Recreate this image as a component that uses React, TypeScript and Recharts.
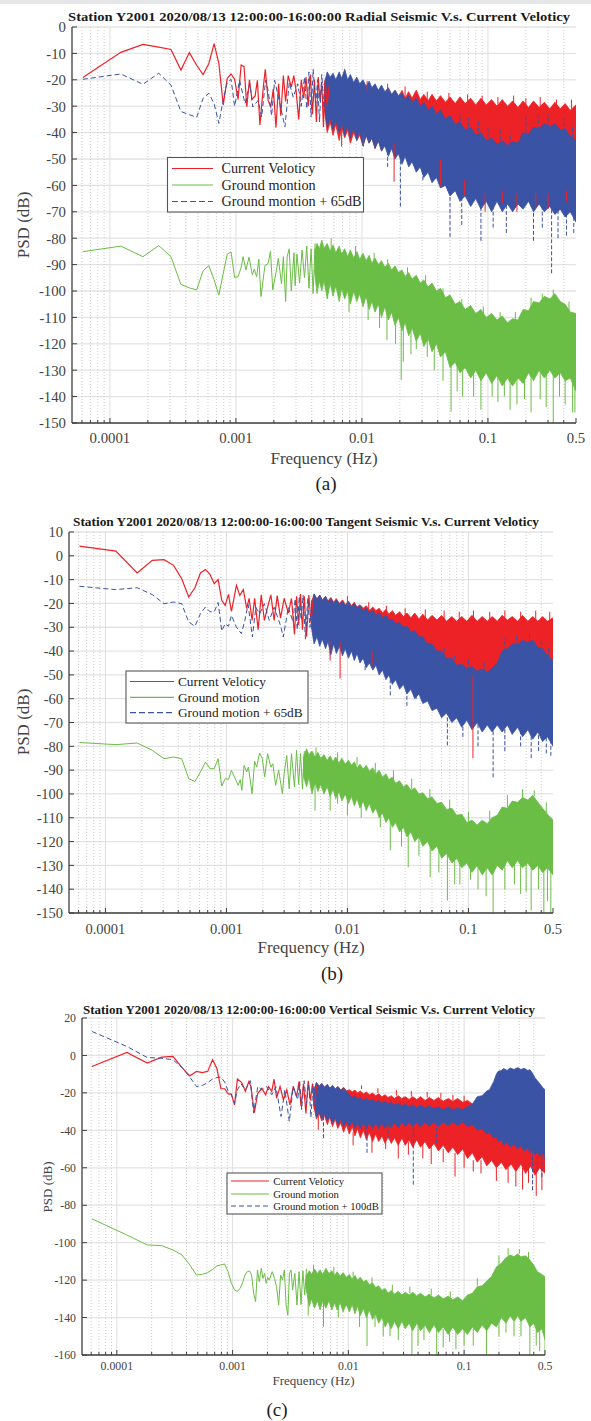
import React from 'react';
import { ComposedChart, Line, Area, XAxis, YAxis, CartesianGrid, ReferenceLine } from 'recharts';

type Pt = [number, number];
type Band = [number, number, number];

const RED = '#ec2227';
const GREEN = '#6abd45';
const BLUE = '#3a53a4';
const AXIS = '#3f3f3f';
const TICK_TEXT = '#444';
const SERIF = '"Liberation Serif", "Times New Roman", serif';

// frequency axis (log) ticks
const freqLabels = [0.0001, 0.001, 0.01, 0.1, 0.5];
const freqMajorGrid = [0.0001, 0.001, 0.01, 0.1];
const freqMinor = [
  0.00006, 0.00007, 0.00008, 0.00009, 0.0002, 0.0003, 0.0004, 0.0005, 0.0006, 0.0007, 0.0008, 0.0009,
  0.002, 0.003, 0.004, 0.005, 0.006, 0.007, 0.008, 0.009, 0.02, 0.03, 0.04, 0.05, 0.06, 0.07, 0.08, 0.09,
  0.2, 0.3, 0.4,
];
const freqAllTicks = [...freqMinor, ...freqLabels].sort((a, b) => a - b);

const psdTicksA = [-150, -140, -130, -120, -110, -100, -90, -80, -70, -60, -50, -40, -30, -20, -10, 0];
const psdTicksB = [-150, -140, -130, -120, -110, -100, -90, -80, -70, -60, -50, -40, -30, -20, -10, 0, 10];
const psdTicksC = [-160, -140, -120, -100, -80, -60, -40, -20, 0, 20];

// ---------- (a) Radial ----------
const aCurrentLine: Pt[] = [
  [6.1e-5, -19.1], [1.22e-4, -9.6], [1.83e-4, -6.6], [2.44e-4, -7.6], [3.05e-4, -8.5], [3.66e-4, -16.3],
  [4.27e-4, -9.7], [4.88e-4, -14.5], [5.49e-4, -18], [6.1e-4, -13.8], [6.71e-4, -6.3], [7.32e-4, -13.8],
  [7.93e-4, -29.5], [8.54e-4, -19.4], [9.15e-4, -17.8], [9.76e-4, -19.8], [1.04e-3, -27.4], [1.1e-3, -14.4],
  [1.16e-3, -15], [1.22e-3, -30.2], [1.28e-3, -20], [1.34e-3, -27.4], [1.42e-3, -26.1], [1.48e-3, -20.2],
  [1.55e-3, -37.1], [1.65e-3, -22.7], [1.71e-3, -16], [1.8e-3, -27.8], [1.89e-3, -30.3], [1.98e-3, -23.4],
  [2.08e-3, -38.1], [2.18e-3, -21.5], [2.27e-3, -33.6], [2.38e-3, -18.4], [2.48e-3, -28.2], [2.6e-3, -18.4],
  [2.75e-3, -22.8], [2.88e-3, -18.4], [3.0e-3, -24], [3.15e-3, -35], [3.3e-3, -20], [3.45e-3, -27], [3.6e-3, -19],
  [3.75e-3, -30], [3.9e-3, -18], [4.05e-3, -33], [4.2e-3, -20], [4.35e-3, -36], [4.5e-3, -19], [4.65e-3, -28],
  [4.8e-3, -21], [4.95e-3, -38], [5.1e-3, -20], [5.3e-3, -30], [5.5e-3, -22],
];
const aCurrentBand: Band[] = [
  [5.0e-3, -30, -24], [5.3e-3, -40, -19], [5.6e-3, -36, -21], [5.9e-3, -41, -19.5], [6.2e-3, -37, -22],
  [6.6e-3, -43, -20], [6.9e-3, -38, -22.5], [7.3e-3, -42, -20], [7.7e-3, -39, -23], [8.1e-3, -44, -21],
  [8.6e-3, -40, -23.5], [9.1e-3, -43, -21.5], [9.6e-3, -41, -24], [1.02e-2, -45, -22], [1.08e-2, -41, -24.5],
  [1.14e-2, -44, -22], [1.2e-2, -42, -25], [1.27e-2, -46, -22.5], [1.35e-2, -43, -25], [1.43e-2, -47, -23],
  [1.52e-2, -44, -25.5], [1.62e-2, -48, -23.5], [1.72e-2, -45, -26], [1.83e-2, -49, -24], [1.95e-2, -46, -26.5],
  [2.08e-2, -50, -24], [2.2e-2, -47, -27], [2.35e-2, -50, -24.5], [2.5e-2, -48, -27], [2.7e-2, -51, -23.9],
  [2.9e-2, -48, -27.5], [3.1e-2, -52, -25.5], [3.35e-2, -49, -28], [3.6e-2, -52, -25.5], [3.9e-2, -50, -28],
  [4.2e-2, -53, -26], [4.6e-2, -50, -28.5], [5.0e-2, -53, -26.5], [5.5e-2, -51, -29], [6.0e-2, -54, -26.5],
  [6.6e-2, -51, -29], [7.3e-2, -54, -27], [8.0e-2, -52, -29.5], [8.8e-2, -55, -27], [9.7e-2, -52, -29.5],
  [0.107, -55, -27.5], [0.118, -53, -30], [0.13, -56, -27.5], [0.143, -53, -30], [0.157, -56, -28],
  [0.173, -54, -30.5], [0.19, -57, -28], [0.21, -54, -30.5], [0.23, -57, -28], [0.255, -55, -30.5],
  [0.28, -57, -28.5], [0.31, -55, -31], [0.34, -58, -28.5], [0.375, -56, -31], [0.41, -58, -29],
  [0.45, -56, -31.5], [0.5, -58, -29.5],
];
const aCurrentSpikes: Band[] = [
  [6.9e-3, -45.3, -38], [1.03e-2, -45.3, -40], [1.8e-2, -58.6, -44], [4.2e-2, -60, -50], [6.5e-2, -64, -58],
  [9.5e-2, -70, -63], [0.13, -67, -62], [0.17, -70, -63], [0.24, -68, -63], [0.3, -69, -63], [0.42, -66, -62],
  [1.1e-2, -24, -20.5], [1.6e-2, -25, -21.5], [2.2e-2, -27, -22.5], [3.3e-2, -28, -24.5], [4.9e-2, -28.5, -25],
  [6.9e-2, -29, -25.5], [0.09, -29.5, -26], [0.12, -30, -26.5], [0.16, -30, -26], [0.2, -30.5, -27],
  [0.26, -30.5, -26.5], [0.35, -31, -27.5], [0.46, -31, -27.5],
];
const aGroundLine: Pt[] = [
  [6.1e-5, -85.1], [1.22e-4, -83], [1.83e-4, -87], [2.44e-4, -82.8], [3.05e-4, -87], [3.66e-4, -97.5],
  [4.27e-4, -98.8], [4.88e-4, -99.6], [5.49e-4, -92.3], [6.1e-4, -90.4], [6.71e-4, -95.8], [7.32e-4, -101.6],
  [7.93e-4, -93.3], [8.54e-4, -86], [9.15e-4, -85.2], [9.76e-4, -94.8], [1.04e-3, -94.6], [1.1e-3, -91],
  [1.14e-3, -87], [1.2e-3, -92], [1.27e-3, -87.2], [1.35e-3, -93.9], [1.4e-3, -91.7], [1.46e-3, -94.6],
  [1.52e-3, -88], [1.58e-3, -102.1], [1.7e-3, -90.4], [1.8e-3, -89.6], [1.88e-3, -85], [1.96e-3, -99.6],
  [2.1e-3, -92], [2.17e-3, -87.6], [2.3e-3, -97.3], [2.38e-3, -87], [2.48e-3, -104], [2.55e-3, -87],
  [2.65e-3, -84], [2.75e-3, -100], [2.89e-3, -85.5], [2.95e-3, -98], [3.05e-3, -86], [3.2e-3, -97],
  [3.35e-3, -84.5], [3.5e-3, -95], [3.65e-3, -83], [3.8e-3, -99], [3.95e-3, -84], [4.1e-3, -101], [4.25e-3, -82],
];
const aGroundBand: Band[] = [
  [4.2e-3, -92, -85], [4.4e-3, -101, -82], [4.6e-3, -96, -84], [4.8e-3, -100, -80.7], [5.0e-3, -96, -84],
  [5.3e-3, -103, -82], [5.6e-3, -97, -85], [5.9e-3, -102, -82.5], [6.2e-3, -98, -85.5], [6.6e-3, -104, -83],
  [6.9e-3, -99, -86], [7.3e-3, -103, -84], [7.7e-3, -100, -87], [8.1e-3, -105, -84.5], [8.6e-3, -100, -87.5],
  [9.1e-3, -104, -85], [9.6e-3, -101, -88], [1.02e-2, -106, -85.7], [1.08e-2, -102, -88.5], [1.14e-2, -107, -86.5],
  [1.2e-2, -104, -89.5], [1.27e-2, -108, -87.5], [1.35e-2, -105, -90], [1.43e-2, -110, -88.5], [1.52e-2, -106, -91],
  [1.62e-2, -111, -89.5], [1.72e-2, -108, -92], [1.83e-2, -113, -90.5], [1.95e-2, -110, -93], [2.08e-2, -115, -92],
  [2.2e-2, -112, -94.5], [2.35e-2, -117, -93], [2.5e-2, -114, -95.5], [2.7e-2, -119, -94], [2.9e-2, -116, -97],
  [3.1e-2, -121, -95.8], [3.35e-2, -118, -98.5], [3.6e-2, -123, -97], [3.9e-2, -120, -100], [4.2e-2, -125, -99],
  [4.6e-2, -123, -102.5], [5.0e-2, -129, -101.5], [5.5e-2, -127, -105], [6.0e-2, -131, -104], [6.6e-2, -129, -107],
  [7.3e-2, -133, -105.5], [8.0e-2, -130, -108.5], [8.8e-2, -134, -107], [9.7e-2, -131, -110], [0.107, -135, -108.5],
  [0.118, -132, -111], [0.13, -136, -109.5], [0.143, -133, -112], [0.157, -136, -110.5], [0.173, -133, -111],
  [0.19, -135, -107], [0.21, -131, -107.5], [0.23, -134, -104], [0.255, -130, -104.5], [0.28, -133, -102],
  [0.31, -130, -103], [0.34, -133, -101], [0.375, -131, -104], [0.41, -134, -105], [0.45, -133, -108],
  [0.5, -138, -108.5],
];
const aGroundSpikes: Band[] = [
  [1.58e-2, -118.6, -105], [2.05e-2, -133.7, -110], [2.13e-2, -126.8, -110], [2.7e-2, -122, -112],
  [3.3e-2, -125, -115], [5.1e-2, -145.7, -125], [6.3e-2, -140, -128], [8.8e-2, -145, -130], [0.108, -140, -130],
  [0.12, -142, -130], [0.135, -140, -130], [0.17, -143, -130], [0.22, -146, -128], [0.26, -141, -128],
  [0.33, -150, -128], [0.41, -143, -130], [0.47, -146, -132],
  [7.9e-3, -108, -98], [1.12e-2, -111, -100], [1.38e-2, -114, -104], [1.85e-2, -120, -108], [2.45e-2, -124, -112],
  [3.75e-2, -130, -118], [4.4e-2, -134, -122], [5.7e-2, -138, -128], [7.7e-2, -140, -130], [0.15, -145, -133],
  [0.195, -141, -132], [0.29, -144, -130], [0.37, -140, -131], [0.49, -146, -135],
  [5.7e-3, -86, -80], [8.9e-3, -88, -83], [1.25e-2, -90, -85.5], [1.6e-2, -92, -88], [2.3e-2, -96, -91],
  [3.2e-2, -99, -94], [4.4e-2, -104, -99], [6.2e-2, -107, -103], [0.092, -111, -106], [0.125, -113, -108],
  [0.165, -112, -108], [0.22, -107, -102.5], [0.27, -105, -101], [0.33, -103, -99.5], [0.44, -108, -104],
];
const aShiftedLine: Pt[] = [
  [6.1e-5, -19.8], [1.22e-4, -17.8], [1.83e-4, -21.7], [2.44e-4, -17.5], [3.05e-4, -22], [3.66e-4, -32],
  [4.27e-4, -33.2], [4.88e-4, -34.2], [5.49e-4, -27], [6.1e-4, -25.1], [6.71e-4, -29], [7.32e-4, -36.5],
  [7.93e-4, -27.5], [8.54e-4, -21], [9.15e-4, -19.8], [9.76e-4, -30], [1.07e-3, -20.2], [1.18e-3, -29],
  [1.29e-3, -21.5], [1.36e-3, -30.3], [1.5e-3, -27.8], [1.6e-3, -34.1], [1.72e-3, -20.2], [1.8e-3, -24],
  [1.92e-3, -33.6], [2.03e-3, -20.2], [2.2e-3, -27.8], [2.45e-3, -37.8], [2.65e-3, -21], [2.85e-3, -26.6],
  [3.1e-3, -21.5], [3.3e-3, -30], [3.5e-3, -19], [3.65e-3, -31], [3.8e-3, -17], [3.95e-3, -34], [4.1e-3, -16],
  [4.3e-3, -29], [4.45e-3, -20], [4.6e-3, -36], [4.8e-3, -18], [5.0e-3, -31], [5.2e-3, -19],
];
const aShiftedBand: Band[] = [
  [5.0e-3, -28, -22], [5.3e-3, -38, -17], [5.6e-3, -34, -19], [5.9e-3, -39, -17.5], [6.2e-3, -35, -20],
  [6.6e-3, -40, -17], [6.9e-3, -36, -19.5], [7.3e-3, -41, -16], [7.7e-3, -37, -20], [8.1e-3, -42, -18],
  [8.6e-3, -38, -21], [9.1e-3, -43, -19], [9.6e-3, -39, -21.5], [1.02e-2, -45, -20], [1.08e-2, -41, -22.5],
  [1.14e-2, -44, -20.5], [1.2e-2, -42, -23], [1.27e-2, -46, -21.5], [1.35e-2, -43, -24], [1.43e-2, -47, -22],
  [1.52e-2, -45, -24.5], [1.62e-2, -49, -23], [1.72e-2, -46, -25.5], [1.83e-2, -50, -24], [1.95e-2, -48, -26],
  [2.08e-2, -52, -25], [2.2e-2, -49, -27.5], [2.35e-2, -53, -26], [2.5e-2, -51, -28.5], [2.7e-2, -55, -27],
  [2.9e-2, -53, -30], [3.1e-2, -57, -28.5], [3.35e-2, -55, -31.5], [3.6e-2, -59, -30], [3.9e-2, -57, -33],
  [4.2e-2, -61, -31.5], [4.6e-2, -60, -35], [5.0e-2, -64, -33.5], [5.5e-2, -62, -37], [6.0e-2, -66, -36],
  [6.6e-2, -64, -39], [7.3e-2, -68, -38], [8.0e-2, -65, -41], [8.8e-2, -69, -40], [9.7e-2, -66, -43],
  [0.107, -70, -42], [0.118, -66, -44.5], [0.13, -70, -43], [0.143, -67, -45], [0.157, -70, -43.5],
  [0.173, -67, -44], [0.19, -69, -40], [0.21, -66, -40.5], [0.23, -70, -38], [0.255, -67, -38.5],
  [0.28, -70, -36.5], [0.31, -68, -38], [0.34, -71, -36.5], [0.375, -69, -39], [0.41, -72, -38.5],
  [0.45, -70, -41.5], [0.5, -74, -43],
];
const aShiftedSpikes: Band[] = [
  [1.6e-2, -53, -42], [2.02e-2, -68, -45], [3.05e-2, -58, -50], [5.0e-2, -79.5, -60], [6.2e-2, -75, -62],
  [8.8e-2, -81, -64], [0.11, -76, -64], [0.14, -78, -64], [0.23, -81, -64], [0.27, -76, -64],
  [0.32, -93.3, -64], [0.36, -80, -65], [0.42, -79, -66], [0.48, -78, -66],
  [6.0e-2, -38, -33], [7.0e-2, -40, -34.5], [8.4e-2, -42, -36], [0.1, -44, -38], [0.125, -45, -39],
  [0.15, -45, -40], [0.2, -40, -34], [0.25, -39, -33.5], [0.3, -38, -33], [0.4, -40, -34.5], [0.47, -42, -37],
];

// ---------- (b) Tangent ----------
const bCurrentLine: Pt[] = [
  [6.1e-5, 4.1], [1.22e-4, 2.0], [1.83e-4, -7.2], [2.44e-4, -1.9], [3.05e-4, -1.6], [3.66e-4, -4],
  [4.27e-4, -9.6], [4.88e-4, -17.3], [5.49e-4, -13.4], [6.1e-4, -7.2], [6.71e-4, -5.8], [7.32e-4, -7.8],
  [7.93e-4, -11.7], [8.54e-4, -10], [9.15e-4, -18.7], [9.76e-4, -20.8], [1.04e-3, -16.2], [1.1e-3, -23.3],
  [1.21e-3, -12.4], [1.29e-3, -16.6], [1.38e-3, -14.2], [1.47e-3, -22.1], [1.54e-3, -17.9], [1.63e-3, -27.1],
  [1.71e-3, -17.9], [1.83e-3, -31], [1.94e-3, -16.4], [2.06e-3, -27.1], [2.19e-3, -21.5], [2.33e-3, -16.4],
  [2.48e-3, -27.1], [2.63e-3, -16.7], [2.8e-3, -26.2], [3.0e-3, -17.9], [3.25e-3, -24], [3.45e-3, -17.9],
  [3.65e-3, -33], [3.8e-3, -17], [3.95e-3, -29], [4.1e-3, -16], [4.25e-3, -31], [4.4e-3, -17], [4.6e-3, -34],
  [4.8e-3, -16.5], [5.0e-3, -28], [5.2e-3, -18],
];
const bCurrentBand: Band[] = [
  [5.0e-3, -27, -21], [5.3e-3, -35, -16], [5.6e-3, -32, -18], [5.9e-3, -36, -16.5], [6.2e-3, -33, -18.5],
  [6.6e-3, -37, -17], [6.9e-3, -34, -19], [7.3e-3, -38, -17.5], [7.7e-3, -35, -19.5], [8.1e-3, -39, -18],
  [8.6e-3, -36, -20], [9.1e-3, -40, -18.5], [9.6e-3, -37, -20.5], [1.02e-2, -41, -19], [1.08e-2, -38, -21],
  [1.14e-2, -42, -19.5], [1.2e-2, -39, -21.5], [1.27e-2, -43, -20.5], [1.35e-2, -40, -22], [1.43e-2, -44, -21],
  [1.52e-2, -41, -22.9], [1.62e-2, -45, -21.5], [1.72e-2, -42, -23], [1.83e-2, -46, -22], [1.95e-2, -43, -24],
  [2.08e-2, -47, -22.5], [2.2e-2, -44, -24.5], [2.35e-2, -48, -23], [2.5e-2, -45, -25], [2.7e-2, -49, -23.5],
  [2.9e-2, -46, -25.5], [3.1e-2, -50, -24], [3.35e-2, -47, -26], [3.6e-2, -51, -24], [3.9e-2, -48, -26.5],
  [4.2e-2, -52, -24.5], [4.6e-2, -49, -27], [5.0e-2, -53, -25], [5.5e-2, -50, -27], [6.0e-2, -54, -25],
  [6.6e-2, -51, -27.5], [7.3e-2, -55, -25.5], [8.0e-2, -52, -27.5], [8.8e-2, -56, -25.5], [9.7e-2, -53, -27.5],
  [0.107, -57, -25], [0.118, -54, -27.5], [0.13, -58, -25.5], [0.143, -55, -27.5], [0.157, -58, -25.5],
  [0.173, -55, -27.5], [0.19, -57, -25], [0.21, -54, -27], [0.23, -57, -25.5], [0.255, -54, -27.5],
  [0.28, -56, -25], [0.31, -54, -27.5], [0.34, -57, -25.5], [0.375, -55, -27.5], [0.41, -58, -25.5],
  [0.45, -56, -27.5], [0.5, -58, -26],
];
const bCurrentSpikes: Band[] = [
  [7.2e-3, -44, -36], [8.7e-3, -51.5, -36], [1.6e-2, -46, -40], [0.109, -85, -50],
  [1.0e-2, -21, -17], [1.5e-2, -23, -19.5], [2.1e-2, -24, -21], [3.0e-2, -25, -22], [4.4e-2, -26, -22.5],
  [6.3e-2, -26.5, -23], [8.4e-2, -27, -23.5], [0.11, -27, -23], [0.15, -27, -23.5], [0.2, -27, -23],
  [0.27, -27, -23.5], [0.36, -27, -23], [0.47, -27, -23.5],
];
const bGroundLine: Pt[] = [
  [6.1e-5, -78.4], [1.22e-4, -79.3], [1.83e-4, -78.6], [2.44e-4, -81.7], [3.05e-4, -85.2], [3.66e-4, -84.5],
  [4.27e-4, -85.2], [4.88e-4, -93.6], [5.49e-4, -94.8], [6.1e-4, -90.8], [6.71e-4, -86.6], [7.32e-4, -89.4],
  [7.93e-4, -89.4], [8.54e-4, -85.2], [9.15e-4, -96.7], [9.76e-4, -93.6], [1.04e-3, -93.9], [1.1e-3, -90.1],
  [1.2e-3, -94.3], [1.25e-3, -96.4], [1.3e-3, -94], [1.34e-3, -98.5], [1.4e-3, -88], [1.47e-3, -90.8],
  [1.52e-3, -88.7], [1.63e-3, -99.9], [1.71e-3, -86.3], [1.78e-3, -88.7], [1.88e-3, -82.8], [1.98e-3, -85.2],
  [2.07e-3, -92.9], [2.19e-3, -83.1], [2.33e-3, -88.7], [2.42e-3, -87.3], [2.55e-3, -96.4], [2.7e-3, -90],
  [2.9e-3, -99.9], [3.0e-3, -91.5], [3.15e-3, -83.8], [3.3e-3, -97.8], [3.45e-3, -83.1], [3.65e-3, -97.1],
  [3.8e-3, -81.7], [3.95e-3, -96], [4.1e-3, -83], [4.25e-3, -98], [4.4e-3, -82],
];
const bGroundBand: Band[] = [
  [4.3e-3, -92, -85], [4.6e-3, -97, -81], [4.8e-3, -93, -83.5], [5.1e-3, -100, -82], [5.4e-3, -95, -84.5],
  [5.7e-3, -99, -82.5], [6.0e-3, -96, -85], [6.4e-3, -100, -83.5], [6.8e-3, -97, -86], [7.2e-3, -101, -84],
  [7.6e-3, -98, -86.5], [8.0e-3, -102, -84.5], [8.5e-3, -99, -87], [9.0e-3, -103, -85], [9.6e-3, -100, -87.5],
  [1.02e-2, -104, -85.9], [1.08e-2, -101, -88], [1.14e-2, -105, -86.5], [1.2e-2, -102, -89], [1.27e-2, -106, -87.5],
  [1.35e-2, -103, -89.5], [1.43e-2, -107, -88], [1.52e-2, -104, -90.5], [1.62e-2, -108, -89], [1.72e-2, -106, -91.5],
  [1.83e-2, -110, -90], [1.95e-2, -108, -93], [2.08e-2, -112, -91.5], [2.2e-2, -110, -94], [2.35e-2, -114, -93],
  [2.5e-2, -112, -95.5], [2.7e-2, -116, -94.5], [2.9e-2, -114, -97], [3.1e-2, -118, -96], [3.35e-2, -116, -98.5],
  [3.6e-2, -120, -97.5], [3.9e-2, -118, -100], [4.2e-2, -122, -99.5], [4.6e-2, -120, -102], [5.0e-2, -124, -101.3],
  [5.5e-2, -122, -104], [6.0e-2, -127, -103.5], [6.6e-2, -125, -106.5], [7.3e-2, -129, -106], [8.0e-2, -127, -109],
  [8.8e-2, -131, -108.5], [9.7e-2, -129, -112], [0.107, -133, -111], [0.118, -130, -113], [0.13, -134, -111],
  [0.143, -131, -112.5], [0.157, -134, -110], [0.173, -130, -109], [0.19, -132, -105.5], [0.21, -128, -106],
  [0.23, -131, -103], [0.255, -128, -103.5], [0.28, -131, -101.5], [0.31, -129, -102.5], [0.34, -132, -100.6],
  [0.375, -130, -103.5], [0.41, -133, -106], [0.45, -131, -108.5], [0.5, -134, -111],
];
const bGroundSpikes: Band[] = [
  [5.4e-3, -107, -95], [7.2e-3, -107, -97], [1.0e-2, -109, -100], [1.87e-2, -114, -104], [2.26e-2, -123.7, -108],
  [3.18e-2, -130.8, -112], [4.83e-2, -135, -118], [6.7e-2, -144.7, -124], [8.5e-2, -138, -128],
  [0.104, -136, -130], [0.16, -150, -130], [0.2, -140, -127], [0.27, -142, -126], [0.33, -149, -126],
  [0.42, -150, -128], [0.48, -150, -130],
  [8.3e-3, -104, -97], [1.3e-2, -110, -102], [2.8e-2, -122, -112], [3.9e-2, -126, -117], [5.7e-2, -133, -122],
  [7.7e-2, -138, -127], [0.12, -140, -130], [0.14, -143, -131], [0.24, -138, -128], [0.3, -141, -129],
  [0.38, -140, -130], [0.45, -145, -131],
  [5.5e-3, -84, -80.5], [8.3e-3, -86, -82.5], [1.2e-2, -88, -84.5], [1.7e-2, -91, -87], [2.4e-2, -94, -90],
  [3.4e-2, -98, -93.5], [4.8e-2, -102, -98], [7.0e-2, -106.5, -102.5], [0.1, -112, -107.5], [0.15, -111, -107],
  [0.21, -105.5, -100.5], [0.28, -102, -98], [0.35, -101, -98.5], [0.44, -108, -103.5],
];
const bShiftedLine: Pt[] = [
  [6.1e-5, -12.8], [1.22e-4, -14.2], [1.83e-4, -13.4], [2.44e-4, -16.3], [3.05e-4, -20.1], [3.66e-4, -19.4],
  [4.27e-4, -20.1], [4.88e-4, -27.8], [5.49e-4, -29.6], [6.1e-4, -24.3], [6.71e-4, -21.5], [7.32e-4, -23.5],
  [7.93e-4, -23.5], [8.54e-4, -19.6], [9.15e-4, -31.6], [9.76e-4, -28.5], [1.04e-3, -29.6], [1.1e-3, -25],
  [1.21e-3, -30], [1.33e-3, -32.7], [1.42e-3, -27.1], [1.51e-3, -20.4], [1.64e-3, -34.1], [1.75e-3, -21.6],
  [1.88e-3, -24.4], [2.06e-3, -20.1], [2.26e-3, -27.1], [2.48e-3, -21.6], [2.8e-3, -29.3], [2.95e-3, -34.1],
  [3.25e-3, -21.6], [3.55e-3, -27.8], [3.7e-3, -18], [3.85e-3, -31], [4.0e-3, -17], [4.15e-3, -27],
  [4.3e-3, -16.5], [4.5e-3, -35], [4.7e-3, -18], [4.9e-3, -30], [5.1e-3, -17],
];
const bShiftedBand: Band[] = [
  [5.0e-3, -29, -22], [5.3e-3, -37, -16], [5.6e-3, -34, -18.5], [5.9e-3, -38, -16.5], [6.2e-3, -35, -19],
  [6.6e-3, -39, -17], [6.9e-3, -36, -19.5], [7.3e-3, -41.5, -18], [7.7e-3, -37, -20], [8.1e-3, -41, -18.5],
  [8.6e-3, -38, -20.5], [9.1e-3, -42, -19], [9.6e-3, -39, -21], [1.02e-2, -43, -19.5], [1.08e-2, -40, -21.5],
  [1.14e-2, -44, -20], [1.2e-2, -41, -22], [1.27e-2, -45, -21], [1.35e-2, -43, -23], [1.43e-2, -47, -22],
  [1.52e-2, -45, -24], [1.62e-2, -48, -23], [1.72e-2, -46, -25], [1.83e-2, -50, -24], [1.95e-2, -48, -26],
  [2.08e-2, -52, -25], [2.2e-2, -50, -27], [2.35e-2, -54, -26.5], [2.5e-2, -52, -28.5], [2.7e-2, -56, -28],
  [2.9e-2, -54, -30], [3.1e-2, -58, -29.6], [3.35e-2, -56, -32], [3.6e-2, -60, -31.5], [3.9e-2, -58, -34],
  [4.2e-2, -62, -34], [4.6e-2, -61, -37], [5.0e-2, -65, -37], [5.5e-2, -64, -40], [6.0e-2, -68, -40],
  [6.6e-2, -66, -43], [7.3e-2, -70, -43], [8.0e-2, -68, -46], [8.8e-2, -72, -45.5], [9.7e-2, -69, -47.5],
  [0.107, -73, -46.5], [0.118, -70, -48.5], [0.13, -74, -47.5], [0.143, -71, -49], [0.157, -74, -47],
  [0.173, -71, -45], [0.19, -74, -40], [0.21, -71, -39], [0.23, -75, -37], [0.255, -72, -37.5],
  [0.28, -76, -35.5], [0.31, -73, -36.5], [0.34, -77, -35.5], [0.375, -74, -38.5], [0.41, -78, -39],
  [0.45, -76, -42], [0.5, -80, -44],
];
const bShiftedSpikes: Band[] = [
  [7.2e-3, -41.5, -36], [1.4e-2, -48, -42], [2.26e-2, -58.6, -48], [3.1e-2, -63, -52], [3.7e-2, -60, -55],
  [6.7e-2, -79.6, -66], [0.09, -76, -68], [0.12, -80, -70], [0.16, -93, -70], [0.2, -82, -70],
  [0.27, -80, -70], [0.33, -85, -72], [0.38, -82, -72], [0.44, -83, -74], [0.48, -84, -74],
  [6.3e-2, -43, -38], [7.7e-2, -46, -41], [0.1, -48, -43], [0.135, -49, -44], [0.2, -40, -34.5],
  [0.25, -38, -33], [0.32, -37, -32.5], [0.4, -40, -35], [0.46, -43, -38],
];

// ---------- (c) Vertical ----------
const cCurrentLine: Pt[] = [
  [6.1e-5, -5.9], [1.22e-4, 1.6], [1.83e-4, -4.1], [2.44e-4, -0.9], [3.05e-4, -0.5], [3.66e-4, -6.5],
  [4.27e-4, -10.9], [4.88e-4, -8.5], [5.49e-4, -9.2], [6.1e-4, -8.5], [6.71e-4, -2.3], [7.32e-4, -7],
  [7.93e-4, -17.8], [8.54e-4, -17.8], [9.15e-4, -20.5], [9.76e-4, -20.7], [1.04e-3, -26.4], [1.1e-3, -12.5],
  [1.2e-3, -14.5], [1.29e-3, -19.2], [1.38e-3, -14], [1.44e-3, -16.6], [1.54e-3, -30.5], [1.65e-3, -20.2],
  [1.79e-3, -17.6], [1.93e-3, -21], [2.04e-3, -16.6], [2.18e-3, -19.2], [2.28e-3, -12.6], [2.4e-3, -22.8],
  [2.57e-3, -16.6], [2.75e-3, -23.7], [2.94e-3, -18.4], [3.13e-3, -26.4], [3.34e-3, -16.6], [3.57e-3, -21.9],
  [3.75e-3, -14], [3.9e-3, -27], [4.1e-3, -15], [4.3e-3, -31], [4.5e-3, -13.5], [4.7e-3, -24], [4.9e-3, -15],
  [5.1e-3, -29], [5.3e-3, -16],
];
const cCurrentBand: Band[] = [
  [5.0e-3, -26, -20], [5.3e-3, -34, -14.5], [5.6e-3, -31, -16.5], [5.9e-3, -35, -15], [6.2e-3, -32, -17],
  [6.6e-3, -37, -15.5], [6.9e-3, -33, -17.5], [7.3e-3, -38, -16], [7.7e-3, -34, -18], [8.1e-3, -39, -16.5],
  [8.6e-3, -36, -18.5], [9.1e-3, -41, -17], [9.6e-3, -37, -19], [1.02e-2, -42, -18.3], [1.08e-2, -38, -19.5],
  [1.14e-2, -43, -18.5], [1.2e-2, -39, -20], [1.27e-2, -44, -19], [1.35e-2, -40, -20.5], [1.43e-2, -45, -19.5],
  [1.52e-2, -41, -21], [1.62e-2, -46, -20.1], [1.72e-2, -42, -21.5], [1.83e-2, -46, -20.5], [1.95e-2, -43, -22],
  [2.08e-2, -47, -21], [2.2e-2, -43, -22.5], [2.35e-2, -47, -21.5], [2.5e-2, -44, -23], [2.7e-2, -48, -21.5],
  [2.9e-2, -44, -23], [3.1e-2, -48, -22], [3.35e-2, -45, -23.5], [3.6e-2, -49, -22], [3.9e-2, -45, -23.5],
  [4.2e-2, -49, -22], [4.6e-2, -46, -24], [5.0e-2, -50, -22.5], [5.5e-2, -47, -24], [6.0e-2, -51, -22.5],
  [6.6e-2, -48, -24.5], [7.3e-2, -52, -23], [8.0e-2, -49, -24.5], [8.8e-2, -53, -23], [9.7e-2, -50, -25],
  [0.107, -55, -24], [0.118, -52, -26], [0.13, -57, -25], [0.143, -54, -27], [0.157, -59, -26],
  [0.173, -56, -28], [0.19, -60, -27], [0.21, -57, -29], [0.23, -61, -28], [0.255, -58, -30],
  [0.28, -62, -29], [0.31, -58, -31], [0.34, -63, -30], [0.375, -59, -31], [0.41, -64, -30],
  [0.45, -60, -32], [0.5, -63, -32],
];
const cCurrentSpikes: Band[] = [
  [5.5e-3, -39.7, -32], [2.7e-2, -55, -45], [5.2e-2, -58, -48], [8.35e-2, -64.7, -52], [0.12, -62, -56],
  [0.32, -71.7, -60], [0.42, -75, -62], [0.47, -72, -60],
  [1.3e-2, -18, -16], [1.8e-2, -20, -17.5], [2.6e-2, -21.5, -18.5], [3.5e-2, -22, -19], [4.8e-2, -22.5, -19.5],
  [6.3e-2, -23, -20], [8.0e-2, -24, -21], [0.1, -24.5, -21.5],
  [1.1e-2, -48, -41], [1.6e-2, -52, -44], [2.1e-2, -50, -45], [3.3e-2, -53, -46], [4.4e-2, -55, -47],
  [6.6e-2, -57, -50], [0.1, -60, -52], [0.14, -63, -56], [0.19, -67, -60], [0.24, -68, -60],
  [0.28, -70, -62], [0.36, -68, -60],
];
const cGroundLine: Pt[] = [
  [6.1e-5, -87.3], [1.22e-4, -95.9], [1.83e-4, -101.2], [2.44e-4, -101.6], [3.05e-4, -103.9], [3.66e-4, -106.6],
  [4.27e-4, -111.9], [4.88e-4, -117.3], [5.49e-4, -116.9], [6.1e-4, -116], [6.71e-4, -114.3], [7.32e-4, -112.4],
  [7.93e-4, -111.9], [8.54e-4, -111.4], [9.15e-4, -115.5], [9.76e-4, -121.7], [1.04e-3, -125.3], [1.1e-3, -126],
  [1.16e-3, -124.4], [1.22e-3, -121.4], [1.28e-3, -117.3], [1.34e-3, -115.5], [1.4e-3, -115.1], [1.46e-3, -117.3],
  [1.52e-3, -127.1], [1.58e-3, -131.5], [1.64e-3, -114.6], [1.7e-3, -120.9], [1.77e-3, -113.7], [1.83e-3, -119.1],
  [1.89e-3, -116.4], [1.95e-3, -121.7], [2.01e-3, -118.6], [2.07e-3, -120], [2.2e-3, -115.5], [2.3e-3, -119.1],
  [2.4e-3, -123.6], [2.5e-3, -133.3], [2.6e-3, -117.3], [2.7e-3, -120], [2.8e-3, -114.6], [2.9e-3, -133.3],
  [3.0e-3, -138.7], [3.1e-3, -116.4], [3.2e-3, -114.6], [3.3e-3, -125.3], [3.45e-3, -116.4], [3.6e-3, -133.3],
  [3.75e-3, -115.5], [3.9e-3, -133], [4.05e-3, -115], [4.2e-3, -128], [4.35e-3, -114],
];
const cGroundBand: Band[] = [
  [4.3e-3, -124, -118], [4.6e-3, -134, -115], [4.8e-3, -130, -117], [5.1e-3, -135, -114], [5.4e-3, -131, -116.5],
  [5.7e-3, -136, -114.5], [6.0e-3, -131, -117], [6.4e-3, -135, -113.7], [6.8e-3, -131, -116.5], [7.2e-3, -136, -115],
  [7.6e-3, -132, -117.5], [8.0e-3, -136, -115.5], [8.5e-3, -132, -118], [9.0e-3, -137, -116], [9.6e-3, -133, -118.5],
  [1.02e-2, -137, -117], [1.08e-2, -133, -119.5], [1.14e-2, -138, -117.5], [1.2e-2, -134, -120], [1.27e-2, -139, -118.5],
  [1.35e-2, -135, -121], [1.43e-2, -140, -120], [1.52e-2, -136, -122.5], [1.62e-2, -141, -121.5], [1.72e-2, -138, -124],
  [1.83e-2, -143, -123], [1.95e-2, -140, -125.5], [2.08e-2, -145, -124.5], [2.2e-2, -142, -127], [2.35e-2, -146, -125.5],
  [2.5e-2, -142, -127.5], [2.7e-2, -146, -126], [2.9e-2, -142, -128], [3.1e-2, -146, -126.5], [3.35e-2, -143, -128],
  [3.6e-2, -147, -126.5], [3.9e-2, -143, -128.5], [4.2e-2, -147, -127], [4.6e-2, -144, -129], [5.0e-2, -148, -127.5],
  [5.5e-2, -144, -129.5], [6.0e-2, -148, -128], [6.6e-2, -145, -130], [7.3e-2, -149, -128.5], [8.0e-2, -145, -130.5],
  [8.8e-2, -149, -129], [9.7e-2, -146, -131], [0.107, -149, -128], [0.118, -145, -127], [0.13, -148, -123.5],
  [0.143, -144, -123], [0.157, -147, -120.5], [0.173, -143, -118], [0.19, -145, -113], [0.21, -140, -111],
  [0.23, -143, -108], [0.25, -139, -106.6], [0.27, -142, -107.5], [0.29, -139, -106], [0.31, -142, -107.5],
  [0.34, -140, -107], [0.37, -145, -109.3], [0.4, -143, -112], [0.43, -148, -115.5], [0.47, -146, -117],
  [0.5, -152, -118.2],
];
const cGroundSpikes: Band[] = [
  [4.5e-3, -139, -128], [6.1e-3, -144.9, -130], [1.45e-2, -155.2, -135], [1.7e-2, -145, -135], [2.29e-2, -150, -140],
  [3.54e-2, -160, -142], [4.5e-2, -152, -142], [5.8e-2, -160, -142], [7.5e-2, -153, -145], [0.1, -155, -146],
  [0.156, -160, -145], [0.27, -150, -138], [0.37, -160, -142], [0.45, -158, -145], [0.5, -160, -150],
  [8.2e-3, -140, -133], [1.25e-2, -145, -136], [2.0e-2, -150, -143], [2.7e-2, -152, -144], [4.0e-2, -155, -145],
  [6.6e-2, -156, -146], [0.085, -157, -147], [0.12, -155, -146], [0.2, -150, -140], [0.23, -148, -140],
  [0.31, -150, -140], [0.42, -155, -145],
  [5.0e-3, -115, -112], [7.5e-3, -117, -113], [1.1e-2, -119, -115.5], [1.6e-2, -122, -118.5], [2.4e-2, -126, -122.5],
  [3.4e-2, -127, -123.5], [5.2e-2, -128, -124.5], [7.6e-2, -129, -126], [0.13, -123, -119], [0.2, -112, -107],
  [0.24, -107, -103], [0.3, -106, -103.5], [0.36, -109, -105],
];
const cShiftedLine: Pt[] = [
  [6.1e-5, 12.8], [1.22e-4, 4.8], [1.83e-4, -1.1], [2.44e-4, -1.5], [3.05e-4, -2.3], [3.66e-4, -6.5],
  [4.27e-4, -11.6], [4.88e-4, -16.6], [5.49e-4, -16], [6.1e-4, -14.5], [6.71e-4, -12.6], [7.32e-4, -11.8],
  [7.93e-4, -11.6], [8.54e-4, -14.2], [9.15e-4, -19], [9.76e-4, -21], [1.04e-3, -25.5], [1.1e-3, -18.4],
  [1.18e-3, -15.1], [1.29e-3, -18.4], [1.42e-3, -13.4], [1.52e-3, -30.8], [1.65e-3, -16.6], [1.79e-3, -18.4],
  [1.97e-3, -16.6], [2.18e-3, -21], [2.37e-3, -16.6], [2.62e-3, -32.6], [2.83e-3, -18.4], [3.09e-3, -35.3],
  [3.34e-3, -16.6], [3.65e-3, -23.7], [3.8e-3, -14], [3.95e-3, -29], [4.15e-3, -13.5], [4.35e-3, -26],
  [4.55e-3, -15], [4.75e-3, -33], [4.95e-3, -16], [5.15e-3, -27],
];
const cShiftedBand: Band[] = [
  [5.0e-3, -25, -19], [5.3e-3, -33, -14.5], [5.6e-3, -30, -16.5], [5.9e-3, -34, -15], [6.2e-3, -31, -17],
  [6.6e-3, -35, -15.5], [6.9e-3, -32, -17.5], [7.3e-3, -36, -16], [7.7e-3, -33, -18], [8.1e-3, -37, -17],
  [8.6e-3, -34, -18.5], [9.1e-3, -38, -17.5], [9.6e-3, -35, -19], [1.02e-2, -38, -21], [1.08e-2, -35, -22.5],
  [1.14e-2, -39, -21.5], [1.2e-2, -36, -23.5], [1.27e-2, -39, -22.5], [1.35e-2, -36, -24], [1.43e-2, -39, -23],
  [1.52e-2, -36, -24.5], [1.62e-2, -39, -23.5], [1.72e-2, -36, -25], [1.83e-2, -39, -24], [1.95e-2, -36, -25.5],
  [2.08e-2, -39, -24.5], [2.2e-2, -36, -26], [2.35e-2, -38.5, -25], [2.5e-2, -36, -26.5], [2.7e-2, -38.5, -25.5],
  [2.9e-2, -35.5, -27], [3.1e-2, -38, -26], [3.35e-2, -35.5, -27.5], [3.6e-2, -38, -26.5], [3.9e-2, -35.5, -28],
  [4.2e-2, -38, -26.5], [4.6e-2, -35.5, -28], [5.0e-2, -38, -27], [5.5e-2, -35.5, -28.5], [6.0e-2, -38, -27.5],
  [6.6e-2, -35.5, -29], [7.3e-2, -37.5, -27.5], [8.0e-2, -35.5, -29], [8.8e-2, -37.5, -28], [9.7e-2, -35.5, -29],
  [0.107, -38, -27.5], [0.118, -37, -26], [0.13, -40, -22], [0.143, -39, -21.5], [0.157, -42, -19],
  [0.166, -41, -18.3], [0.18, -44, -14], [0.19, -43, -10], [0.197, -46, -8.5], [0.21, -45, -8],
  [0.22, -48, -7], [0.235, -46, -8], [0.25, -49, -6.7], [0.27, -47, -7.5], [0.29, -50, -6.5],
  [0.31, -48, -7.5], [0.33, -51, -6.8], [0.355, -49, -8], [0.37, -52, -7.6], [0.39, -50, -9.5],
  [0.41, -53, -12], [0.43, -51, -13.5], [0.45, -54, -15], [0.475, -52, -17], [0.5, -55, -18.3],
];
const cShiftedSpikes: Band[] = [
  [6.1e-3, -44.2, -32], [1.45e-2, -52, -36], [2.2e-2, -45, -36], [3.64e-2, -69, -36], [5.8e-2, -47, -35],
  [0.39, -72, -50], [0.43, -62, -52], [0.47, -65, -53],
];

interface SeriesSet {
  line: Pt[];
  band: Band[];
  spikes: Band[];
}

interface PanelCfg {
  top: number;
  height: number;
  plotLeft: number;
  plotRight: number;
  plotTop: number;
  plotBottom: number;
  yDomain: [number, number];
  yTicks: number[];
  tickFont: number;
  xLabelDy: number;
  current: SeriesSet;
  ground: SeriesSet;
  shifted: SeriesSet;
}

const panels: PanelCfg[] = [
  {
    top: 0, height: 470, plotLeft: 72, plotRight: 576, plotTop: 27, plotBottom: 423,
    yDomain: [-150, 0], yTicks: psdTicksA, tickFont: 14.8, xLabelDy: 20,
    current: { line: aCurrentLine, band: aCurrentBand, spikes: aCurrentSpikes },
    ground: { line: aGroundLine, band: aGroundBand, spikes: aGroundSpikes },
    shifted: { line: aShiftedLine, band: aShiftedBand, spikes: aShiftedSpikes },
  },
  {
    top: 500, height: 460, plotLeft: 69, plotRight: 553, plotTop: 32, plotBottom: 413,
    yDomain: [-150, 10], yTicks: psdTicksB, tickFont: 14.5, xLabelDy: 20.5,
    current: { line: bCurrentLine, band: bCurrentBand, spikes: bCurrentSpikes },
    ground: { line: bGroundLine, band: bGroundBand, spikes: bGroundSpikes },
    shifted: { line: bShiftedLine, band: bShiftedBand, spikes: bShiftedSpikes },
  },
  {
    top: 990, height: 400, plotLeft: 82, plotRight: 545, plotTop: 28, plotBottom: 365,
    yDomain: [-160, 20], yTicks: psdTicksC, tickFont: 11.8, xLabelDy: 15,
    current: { line: cCurrentLine, band: cCurrentBand, spikes: cCurrentSpikes },
    ground: { line: cGroundLine, band: cGroundBand, spikes: cGroundSpikes },
    shifted: { line: cShiftedLine, band: cShiftedBand, spikes: cShiftedSpikes },
  },
];

function PsdPanel({ cfg }: { cfg: PanelCfg }) {
  const series = [
    { key: 'cur', s: cfg.current, color: RED, width: 1.2, dash: undefined as string | undefined },
    { key: 'gnd', s: cfg.ground, color: GREEN, width: 1, dash: undefined as string | undefined },
    { key: 'sh', s: cfg.shifted, color: BLUE, width: 1, dash: '5 3' },
  ];

  const bottomTick = (p: any) => {
    const v = p.payload.value;
    const major = freqLabels.includes(v);
    return (
      <g>
        <line x1={p.x} y1={p.y} x2={p.x} y2={p.y - (major ? 5 : 3)} stroke={AXIS} />
        {major && (
          <text x={p.x} y={p.y + cfg.xLabelDy} textAnchor="middle" fontSize={cfg.tickFont} fill={TICK_TEXT} fontFamily={SERIF}>
            {String(v)}
          </text>
        )}
      </g>
    );
  };
  const topTick = (p: any) => {
    const major = freqLabels.includes(p.payload.value);
    return <line x1={p.x} y1={p.y} x2={p.x} y2={p.y + (major ? 5 : 3)} stroke={AXIS} />;
  };
  const leftTick = (p: any) => (
    <g>
      <line x1={p.x} y1={p.y} x2={p.x + 5} y2={p.y} stroke={AXIS} />
      <text x={p.x - 6} y={p.y} dy="0.36em" textAnchor="end" fontSize={cfg.tickFont} fill={TICK_TEXT} fontFamily={SERIF}>
        {p.payload.value}
      </text>
    </g>
  );
  const rightTick = (p: any) => <line x1={p.x} y1={p.y} x2={p.x - 5} y2={p.y} stroke={AXIS} />;

  return (
    <div style={{ position: 'absolute', left: 0, top: cfg.top }}>
      <ComposedChart
        width={591}
        height={cfg.height}
        margin={{ top: cfg.plotTop, right: 591 - cfg.plotRight, bottom: 0, left: 0 }}
      >
        <CartesianGrid vertical={false} stroke="#e3e3e3" strokeWidth={1.3} />
        <CartesianGrid horizontal={false} verticalValues={freqMinor} stroke="#cdcdcd" strokeDasharray="1 2" />
        <CartesianGrid horizontal={false} verticalValues={freqMajorGrid} stroke="#dedede" />
        <XAxis
          dataKey="f"
          type="number"
          scale="log"
          domain={[5e-5, 0.5]}
          allowDataOverflow
          ticks={freqAllTicks}
          interval={0}
          tickSize={0}
          tickMargin={0}
          tickLine={false}
          height={cfg.height - cfg.plotBottom}
          axisLine={{ stroke: AXIS, strokeWidth: 1.3 }}
          tick={bottomTick}
        />
        <XAxis
          xAxisId="top"
          orientation="top"
          dataKey="f"
          type="number"
          scale="log"
          domain={[5e-5, 0.5]}
          allowDataOverflow
          ticks={freqAllTicks}
          interval={0}
          tickSize={0}
          tickMargin={0}
          tickLine={false}
          height={0}
          axisLine={{ stroke: AXIS, strokeWidth: 1.3 }}
          tick={topTick}
        />
        <YAxis
          type="number"
          domain={cfg.yDomain}
          allowDataOverflow
          ticks={cfg.yTicks}
          interval={0}
          tickSize={0}
          tickMargin={0}
          tickLine={false}
          width={cfg.plotLeft}
          axisLine={{ stroke: AXIS, strokeWidth: 1.3 }}
          tick={leftTick}
        />
        <YAxis
          yAxisId="right"
          orientation="right"
          type="number"
          domain={cfg.yDomain}
          allowDataOverflow
          ticks={cfg.yTicks}
          interval={0}
          tickSize={0}
          tickMargin={0}
          tickLine={false}
          width={0}
          axisLine={{ stroke: AXIS, strokeWidth: 1.3 }}
          tick={rightTick}
        />
        {series.map(({ key, s, color, width, dash }) => (
          <React.Fragment key={key}>
            <Area
              data={s.band.map(([f, lo, hi]) => ({ f, r: [lo, hi] }))}
              dataKey="r"
              type="linear"
              stroke={color}
              strokeWidth={0.8}
              fill={color}
              fillOpacity={1}
              dot={false}
              activeDot={false}
              isAnimationActive={false}
            />
            <Line
              data={s.line.map(([f, v]) => ({ f, v }))}
              dataKey="v"
              type="linear"
              stroke={color}
              strokeWidth={width}
              strokeDasharray={dash}
              dot={false}
              activeDot={false}
              isAnimationActive={false}
            />
            {s.spikes.map(([f, lo, hi], i) => (
              <ReferenceLine
                key={`${key}-sp-${i}`}
                segment={[{ x: f, y: lo }, { x: f, y: hi }]}
                stroke={color}
                strokeWidth={1}
                strokeDasharray={dash ? '4 2' : undefined}
                ifOverflow="hidden"
              />
            ))}
          </React.Fragment>
        ))}
      </ComposedChart>
    </div>
  );
}

interface LegendRow {
  label: string;
  color: string;
  dash?: string;
}

function LegendBox({ x, y, w, h, rows, rowY, sx1, sx2, tx, fontSize }: {
  x: number; y: number; w: number; h: number; rows: LegendRow[]; rowY: number[];
  sx1: number; sx2: number; tx: number; fontSize: number;
}) {
  return (
    <g>
      <rect x={x} y={y} width={w} height={h} fill="#fff" stroke="#555" strokeWidth={1.1} />
      {rows.map((r, i) => (
        <g key={i}>
          <line x1={sx1} x2={sx2} y1={rowY[i]} y2={rowY[i]} stroke={r.color} strokeWidth={1.2} strokeDasharray={r.dash} />
          <text x={tx} y={rowY[i]} dy="0.35em" fontSize={fontSize} fill="#222" fontFamily={SERIF}>
            {r.label}
          </text>
        </g>
      ))}
    </g>
  );
}

const legendA: LegendRow[] = [
  { label: 'Current Veloticy', color: RED },
  { label: 'Ground montion', color: GREEN },
  { label: 'Ground montion + 65dB', color: BLUE, dash: '6 3' },
];
const legendB: LegendRow[] = [
  { label: 'Current Veloticy', color: RED },
  { label: 'Ground motion', color: GREEN },
  { label: 'Ground motion + 65dB', color: BLUE, dash: '6 3' },
];
const legendC: LegendRow[] = [
  { label: 'Current Veloticy', color: RED },
  { label: 'Ground motion', color: GREEN },
  { label: 'Ground motion + 100dB', color: BLUE, dash: '5 3' },
];

export default function App() {
  return (
    <div style={{ position: 'absolute', left: 0, top: 0, width: 591, height: 1421, background: '#fff', overflow: 'hidden' }}>
      <div style={{ position: 'absolute', left: 0, top: 0, width: 591, height: 4, background: '#e6e7e9' }} />
      {panels.map((p, i) => (
        <PsdPanel key={i} cfg={p} />
      ))}
      <svg width={591} height={1421} style={{ position: 'absolute', left: 0, top: 0, pointerEvents: 'none' }}>
        {/* titles */}
        <text x={319} y={20.5} textAnchor="middle" fontSize={13.5} fontWeight="bold" fill="#1a1a1a" fontFamily={SERIF} textLength={502} lengthAdjust="spacingAndGlyphs">
          Station Y2001 2020/08/13 12:00:00-16:00:00 Radial Seismic V.s. Current Veloticy
        </text>
        <text x={306} y={526} textAnchor="middle" fontSize={12.5} fontWeight="bold" fill="#1a1a1a" fontFamily={SERIF} textLength={466} lengthAdjust="spacingAndGlyphs">
          Station Y2001 2020/08/13 12:00:00-16:00:00 Tangent Seismic V.s. Current Veloticy
        </text>
        <text x={309} y={1014} textAnchor="middle" fontSize={12.2} fontWeight="bold" fill="#1a1a1a" fontFamily={SERIF} textLength={452} lengthAdjust="spacingAndGlyphs">
          Station Y2001 2020/08/13 12:00:00-16:00:00 Vertical Seismic V.s. Current Veloticy
        </text>

        {/* axis labels */}
        <text x={324} y={464} textAnchor="middle" fontSize={17} fill="#444" fontFamily={SERIF}>Frequency (Hz)</text>
        <text x={311} y={953} textAnchor="middle" fontSize={17} fill="#444" fontFamily={SERIF}>Frequency (Hz)</text>
        <text x={313.5} y={1385} textAnchor="middle" fontSize={13} fill="#444" fontFamily={SERIF}>Frequency (Hz)</text>
        <text transform="translate(29,225) rotate(-90)" textAnchor="middle" fontSize={17} fill="#444" fontFamily={SERIF}>PSD (dB)</text>
        <text transform="translate(29,722) rotate(-90)" textAnchor="middle" fontSize={17} fill="#444" fontFamily={SERIF}>PSD (dB)</text>
        <text transform="translate(52,1187) rotate(-90)" textAnchor="middle" fontSize={13} fill="#444" fontFamily={SERIF}>PSD (dB)</text>

        {/* captions */}
        <text x={326} y={490} textAnchor="middle" fontSize={19} fill="#222" fontFamily={SERIF}>(a)</text>
        <text x={332} y={980} textAnchor="middle" fontSize={19} fill="#222" fontFamily={SERIF}>(b)</text>
        <text x={277} y={1416} textAnchor="middle" fontSize={19} fill="#222" fontFamily={SERIF}>(c)</text>

        {/* legends */}
        <LegendBox x={167.5} y={157.5} w={196} h={54.5} rows={legendA} rowY={[168.5, 185, 201.5]} sx1={172} sx2={213} tx={221.5} fontSize={14.2} />
        <LegendBox x={126} y={671} w={182} h={52} rows={legendB} rowY={[681.5, 697.3, 712.7]} sx1={130} sx2={174} tx={178} fontSize={13.3} />
        <LegendBox x={227} y={1173} w={155} h={41} rows={legendC} rowY={[1181, 1194, 1206]} sx1={231} sx2={269} tx={273.3} fontSize={10.7} />
      </svg>
    </div>
  );
}
